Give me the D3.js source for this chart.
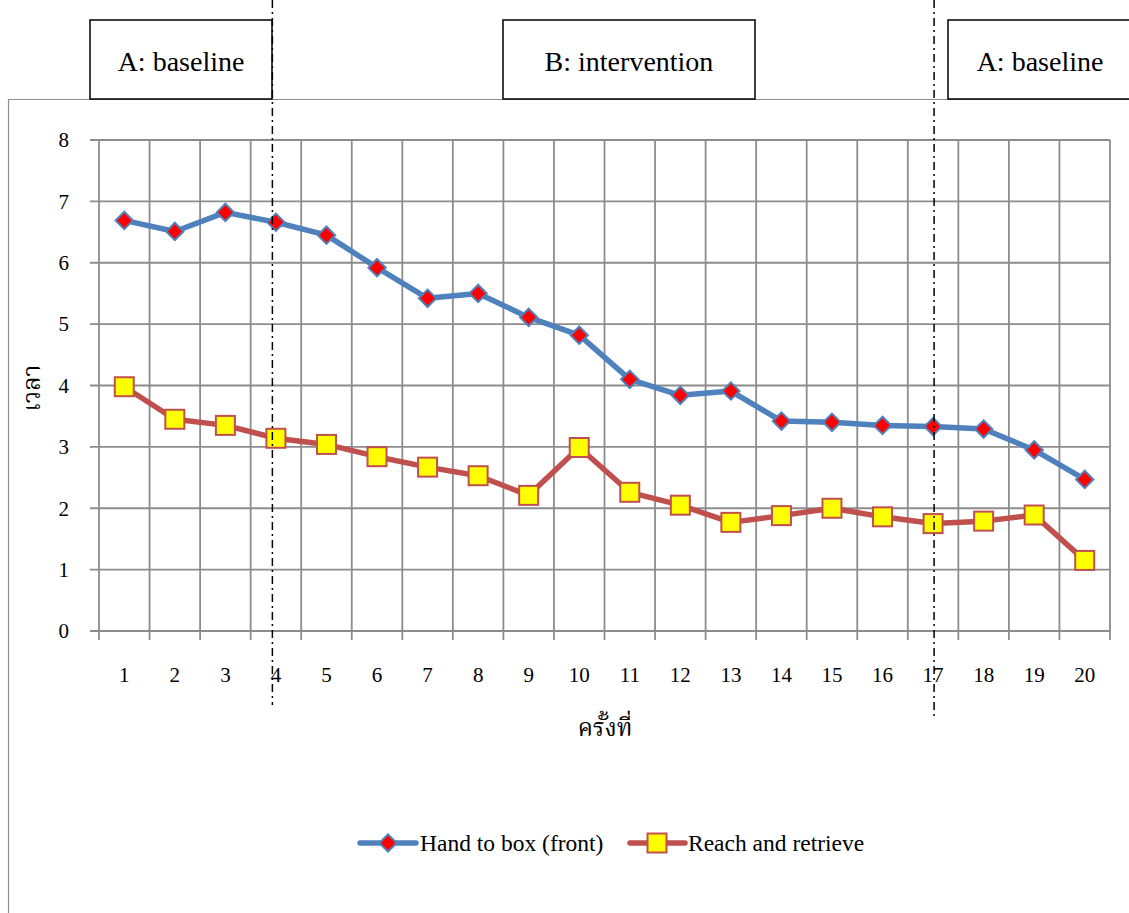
<!DOCTYPE html>
<html>
<head>
<meta charset="utf-8">
<script src="https://cdn.jsdelivr.net/npm/d3@7"></script>
<style>
  body { margin: 0; background: #fff; }
  svg { display: block; font-family: "Liberation Serif", "Times New Roman", serif; }
</style>
</head>
<body>
<svg id="chart" width="1129" height="913"></svg>
<script>
// data
var sessions = ["1","2","3","4","5","6","7","8","9","10","11","12","13","14","15","16","17","18","19","20"];
var handToBox = [6.69, 6.51, 6.82, 6.66, 6.45, 5.92, 5.42, 5.50, 5.11, 4.82, 4.10, 3.84, 3.91, 3.42, 3.40, 3.35, 3.33, 3.29, 2.95, 2.47];
var reachRetrieve = [3.98, 3.45, 3.35, 3.14, 3.04, 2.84, 2.67, 2.53, 2.21, 2.99, 2.26, 2.05, 1.77, 1.88, 2.00, 1.86, 1.75, 1.79, 1.89, 1.15];
var yTicks = [0,1,2,3,4,5,6,7,8];
var phaseLabels = ["A: baseline", "B: intervention", "A: baseline"];
var phaseBreaks = [3.43, 16.52]; // drawn by hand in the original, a bit off the boundaries

var drawChart = function() {
  var svg = d3.select("#chart");
  var plotLeft = 99, plotRight = 1110, plotTop = 140, plotBottom = 631;

  var x = d3.scaleBand().domain(sessions).range([plotLeft, plotRight]);
  var xs = d3.scaleLinear().domain([0, 20]).range([plotLeft, plotRight]); // boundaries
  var y = d3.scaleLinear().domain([0, 8]).range([plotBottom, plotTop]);
  var cx = function(i) { return x(sessions[i]) + x.bandwidth() / 2; };

  var grid = "#8c8c8c";

  // outer chart border (left and top visible)
  svg.append("path")
    .attr("d", "M8.5,913 V99.5 H1129")
    .attr("fill", "none").attr("stroke", grid).attr("stroke-width", 1.2);

  // horizontal gridlines + ticks
  svg.append("g").selectAll("line").data(yTicks).enter().append("line")
    .attr("x1", plotLeft - 9).attr("x2", plotRight)
    .attr("y1", function(d) { return y(d); }).attr("y2", function(d) { return y(d); })
    .attr("stroke", grid).attr("stroke-width", 1.8);

  // vertical gridlines at category boundaries, running down as ticks
  svg.append("g").selectAll("line").data(d3.range(0, 21)).enter().append("line")
    .attr("x1", function(d) { return xs(d); }).attr("x2", function(d) { return xs(d); })
    .attr("y1", plotTop).attr("y2", plotBottom + 9)
    .attr("stroke", grid).attr("stroke-width", 1.8);

  // y tick labels
  svg.append("g").selectAll("text").data(yTicks).enter().append("text")
    .attr("x", 69).attr("y", function(d) { return y(d); })
    .attr("dy", "0.35em").attr("text-anchor", "end")
    .attr("font-size", 21).text(function(d) { return d; });

  // x tick labels
  svg.append("g").selectAll("text").data(sessions).enter().append("text")
    .attr("x", function(d, i) { return cx(i); })
    .attr("y", 682).attr("text-anchor", "middle")
    .attr("font-size", 21).text(function(d) { return d; });

  // axis titles
  var thai = "'Noto Serif Thai', 'Noto Sans Thai', 'Noto Sans', sans-serif";
  svg.append("text").attr("x", 605).attr("y", 736).attr("text-anchor", "middle")
    .attr("font-size", 24).attr("font-family", thai).text("ครั้งที่");
  svg.append("text").attr("transform", "translate(40,388) rotate(-90)")
    .attr("text-anchor", "middle").attr("font-size", 24)
    .attr("font-family", thai).text("เวลา");

  // series lines
  var line = d3.line()
    .x(function(d, i) { return cx(i); })
    .y(function(d) { return y(d); });

  svg.append("path").datum(handToBox).attr("d", line)
    .attr("fill", "none").attr("stroke", "#4F81BD").attr("stroke-width", 5.5).attr("stroke-linejoin", "round");
  svg.append("path").datum(reachRetrieve).attr("d", line)
    .attr("fill", "none").attr("stroke", "#C0504D").attr("stroke-width", 5.5).attr("stroke-linejoin", "round");

  // markers
  var diamond = d3.symbol().type(d3.symbolSquare).size(150);
  svg.append("g").selectAll("path").data(handToBox).enter().append("path")
    .attr("d", diamond)
    .attr("transform", function(d, i) { return "translate(" + cx(i) + "," + y(d) + ") rotate(45)"; })
    .attr("fill", "#FF0000").attr("stroke", "#4F81BD").attr("stroke-width", 2);

  svg.append("g").selectAll("rect").data(reachRetrieve).enter().append("rect")
    .attr("x", function(d, i) { return cx(i) - 9.5; })
    .attr("y", function(d) { return y(d) - 9.5; })
    .attr("width", 19).attr("height", 19)
    .attr("fill", "#FFFF00").attr("stroke", "#C0504D").attr("stroke-width", 2);

  // phase boxes
  var boxes = [
    { x0: 90, x1: 272, tx: 181 },
    { x0: 503, x1: 755, tx: 629 },
    { x0: 948, x1: 1140, tx: 1040 }
  ];
  var pb = svg.append("g").selectAll("g").data(phaseLabels).enter().append("g");
  pb.append("rect")
    .attr("x", function(d, i) { return boxes[i].x0; }).attr("y", 20)
    .attr("width", function(d, i) { return boxes[i].x1 - boxes[i].x0; }).attr("height", 79)
    .attr("fill", "#fff").attr("stroke", "#000").attr("stroke-width", 1.5);
  pb.append("text")
    .attr("x", function(d, i) { return boxes[i].tx; }).attr("y", 71)
    .attr("text-anchor", "middle").attr("font-size", 28)
    .text(function(d) { return d; });

  // phase change lines (dash-dot)
  var ends = [705, 718];
  svg.append("g").selectAll("line").data(phaseBreaks).enter().append("line")
    .attr("x1", function(d) { return xs(d); }).attr("x2", function(d) { return xs(d); })
    .attr("y1", 0).attr("y2", function(d, i) { return ends[i]; })
    .attr("stroke", "#000").attr("stroke-width", 1.5).attr("stroke-dasharray", "8,4,2,4");

  // legend
  var lg = svg.append("g");
  lg.append("line").attr("x1", 360).attr("x2", 416).attr("y1", 843).attr("y2", 843)
    .attr("stroke", "#4F81BD").attr("stroke-width", 5.5).attr("stroke-linecap", "round");
  lg.append("path").attr("d", diamond).attr("transform", "translate(388,843) rotate(45)")
    .attr("fill", "#FF0000").attr("stroke", "#4F81BD").attr("stroke-width", 2);
  lg.append("text").attr("x", 420).attr("y", 851).attr("font-size", 23.5).text("Hand to box (front)");
  lg.append("line").attr("x1", 630).attr("x2", 685).attr("y1", 843).attr("y2", 843)
    .attr("stroke", "#C0504D").attr("stroke-width", 5.5).attr("stroke-linecap", "round");
  lg.append("rect").attr("x", 647.5).attr("y", 833.5).attr("width", 19).attr("height", 19)
    .attr("fill", "#FFFF00").attr("stroke", "#C0504D").attr("stroke-width", 2);
  lg.append("text").attr("x", 688).attr("y", 851).attr("font-size", 23.5).text("Reach and retrieve");
};

drawChart();
</script>
</body>
</html>
